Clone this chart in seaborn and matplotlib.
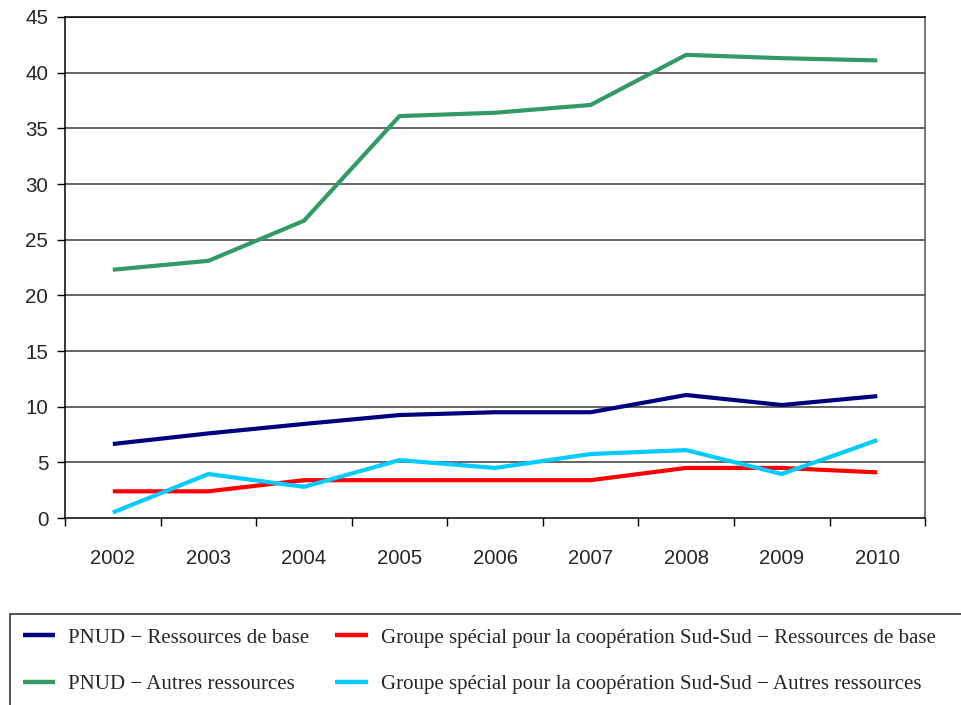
import pandas as pd
import matplotlib
matplotlib.use("Agg")
import matplotlib.pyplot as plt
import seaborn as sns
from matplotlib.patches import Rectangle

years = [2002, 2003, 2004, 2005, 2006, 2007, 2008, 2009, 2010]
pnud_base = [6.65, 7.6, 8.45, 9.25, 9.5, 9.5, 11.05, 10.15, 10.95]
pnud_autres = [22.3, 23.1, 26.7, 36.1, 36.4, 37.1, 41.6, 41.3, 41.1]
sud_base = [2.4, 2.4, 3.4, 3.4, 3.4, 3.4, 4.5, 4.5, 4.1]
sud_autres = [0.5, 3.95, 2.8, 5.2, 4.5, 5.75, 6.1, 3.95, 7.0]

labels = [
    "PNUD \u2212 Ressources de base",
    "PNUD \u2212 Autres ressources",
    "Groupe spécial pour la coopération Sud-Sud \u2212 Ressources de base",
    "Groupe spécial pour la coopération Sud-Sud \u2212 Autres ressources",
]
colors = ["#000080", "#339966", "#FF0000", "#00CCFF"]
yticks = [0, 5, 10, 15, 20, 25, 30, 35, 40, 45]


def buildFrame():
    frames = []
    for lab, vals in zip(labels, [pnud_base, pnud_autres, sud_base, sud_autres]):
        frames.append(pd.DataFrame({"Année": years, "Valeur": vals, "Série": lab}))
    return pd.concat(frames, ignore_index=True)


def main():
    sns.set_style("white")
    plt.rcParams["font.family"] = ["Liberation Sans", "DejaVu Sans"]

    df = buildFrame()

    fig = plt.figure(figsize=(9.62, 7.05), dpi=100)
    ax = fig.add_axes([0.0676, 0.2652, 0.894, 0.7107])

    sns.lineplot(data=df, x="Année", y="Valeur", hue="Série", hue_order=labels,
                 palette=colors, linewidth=3, ax=ax, legend=False,
                 solid_capstyle="butt")

    ax.set_xlim(2001.5, 2010.5)
    ax.set_ylim(0, 45)
    ax.set_xlabel("")
    ax.set_ylabel("")

    # ticks at category boundaries, labels at centres
    ax.set_xticks([y - 0.5 for y in years] + [2010.5])
    ax.set_xticklabels([])
    ax.set_xticks(years, minor=True)
    ax.set_xticklabels([str(y) for y in years], minor=True, fontsize=14.6)
    ax.tick_params(axis="x", which="major", direction="out", length=6, width=1, color="black", bottom=True)
    ax.tick_params(axis="x", which="minor", length=0, pad=22)

    ax.set_yticks(yticks)
    ax.set_yticklabels([str(v) for v in yticks], fontsize=14.8)
    ax.tick_params(axis="y", direction="out", length=6, width=1, color="black", left=True, pad=6)

    for v in yticks[1:]:
        ax.axhline(v, color="#3a3a3a", linewidth=1.1, zorder=0)

    for side in ["left", "bottom", "right", "top"]:
        ax.spines[side].set_visible(True)
        ax.spines[side].set_color("black")
        ax.spines[side].set_linewidth(1.1)
    ax.spines["right"].set_color("#555555")

    # legend box
    fig.patches.append(Rectangle((10 / 962, -0.05), 1.0, (705 - 614) / 705 + 0.05,
                                 transform=fig.transFigure, fill=False,
                                 edgecolor="#333333", linewidth=1.2))

    handles = [plt.Line2D([], [], color=c, linewidth=3.2, solid_capstyle="butt") for c in colors]
    fig.legend(handles, labels, ncol=2, loc="upper left",
               bbox_to_anchor=(23 / 962, (705 - 628) / 705),
               frameon=False, borderpad=0, borderaxespad=0,
               handlelength=1.55, handletextpad=0.62,
               columnspacing=1.25, labelspacing=1.3,
               prop={"family": "Liberation Serif", "size": 15})

    plt.savefig("out.png", dpi=100)


if __name__ == "__main__":
    main()
